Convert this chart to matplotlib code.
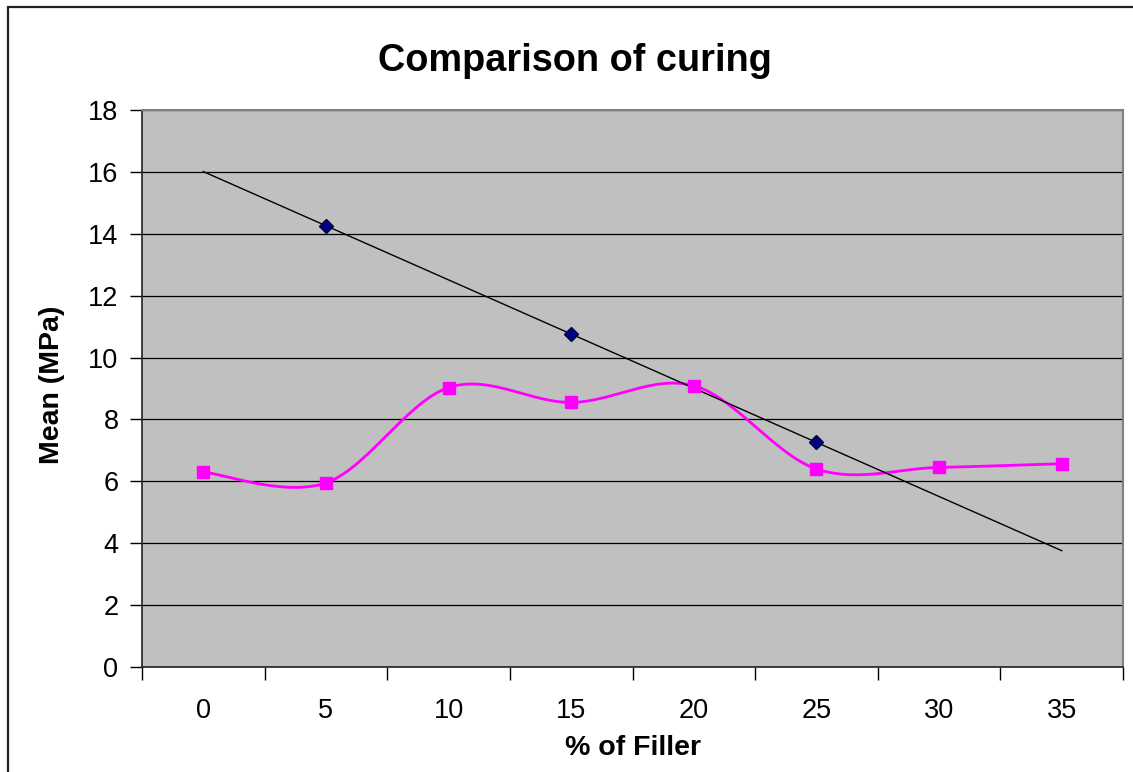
"""Comparison of curing – Excel-artiges Liniendiagramm mit Trendlinie."""

import matplotlib

matplotlib.use("Agg")

import matplotlib.pyplot as plt
import numpy as np
from matplotlib.patches import Rectangle

# --- Daten ---
filler_labels = ["0", "5", "10", "15", "20", "25", "30", "35"]
mean_pink = [6.30, 5.95, 9.03, 8.55, 9.09, 6.40, 6.45, 6.57]
blue_labels = ["5", "15", "25"]
mean_blue = [14.26, 10.76, 7.26]

plt.rcParams["font.family"] = ["Liberation Sans", "DejaVu Sans"]


def catmull_rom(xs, ys, steps=30):
    """Glatte Kurve wie Excel 'Linie glätten' (Catmull-Rom durch alle Punkte)."""
    px = np.concatenate([[xs[0]], xs, [xs[-1]]])
    py = np.concatenate([[ys[0]], ys, [ys[-1]]])
    out_x, out_y = [], []
    t = np.linspace(0, 1, steps, endpoint=False)
    for i in range(1, len(px) - 2):
        for p, out in ((px, out_x), (py, out_y)):
            p0, p1, p2, p3 = p[i - 1], p[i], p[i + 1], p[i + 2]
            seg = 0.5 * (
                2 * p1
                + (-p0 + p2) * t
                + (2 * p0 - 5 * p1 + 4 * p2 - p3) * t**2
                + (-p0 + 3 * p1 - 3 * p2 + p3) * t**3
            )
            out.extend(seg)
    out_x.append(xs[-1])
    out_y.append(ys[-1])
    return np.array(out_x), np.array(out_y)


fig = plt.figure(figsize=(11.33, 7.72), dpi=100)
fig.patch.set_facecolor("white")

# Rahmen des Diagrammbereichs (rechts/unten abgeschnitten)
fig.add_artist(
    Rectangle(
        (8 / 1133, -0.1), 1.2, 1.1 - 7 / 772,
        transform=fig.transFigure, fill=False, edgecolor="#222222", linewidth=1.6,
    )
)

ax = fig.add_axes([142 / 1133, 1 - 667 / 772, 981 / 1133, 557 / 772])
ax.set_facecolor("#C0C0C0")

x_idx = np.arange(len(filler_labels), dtype=float)
blue_idx = np.array([filler_labels.index(b) for b in blue_labels], dtype=float)

# Gitter
ax.set_ylim(0, 18)
ax.set_yticks(np.arange(0, 19, 2))
ax.yaxis.grid(True, color="black", linewidth=0.9)
ax.set_axisbelow(True)

# Rosa Reihe, geglättet
sx, sy = catmull_rom(x_idx, np.array(mean_pink))
ax.plot(sx, sy, color="#FF00FF", linewidth=2, zorder=3)
ax.plot(x_idx, mean_pink, linestyle="none", marker="s", markersize=8,
        color="#FF00FF", zorder=4)

# Blaue Reihe mit linearer Trendlinie
coef = np.polyfit(blue_idx, mean_blue, 1)
trend_x = np.array([x_idx[0], x_idx[-1]])
ax.plot(trend_x, np.polyval(coef, trend_x), color="black", linewidth=1, zorder=3)
ax.plot(blue_idx, mean_blue, linestyle="none", marker="D", markersize=7,
        color="#000080", markeredgecolor="#000040", zorder=5)

# Kategorienachse
ax.set_xlim(-0.5, len(filler_labels) - 0.5)
ax.set_xticks(x_idx)
ax.set_xticklabels(filler_labels)
ax.set_xticks(np.arange(-0.5, len(filler_labels)), minor=True)
ax.tick_params(axis="x", which="major", length=0, pad=22, labelsize=19.5)
ax.tick_params(axis="x", which="minor", length=9, width=1, direction="out")
ax.tick_params(axis="y", length=9, width=1, direction="out", pad=8, labelsize=19.5)

for side in ("top", "right"):
    ax.spines[side].set_color("#808080")
    ax.spines[side].set_linewidth(1.5)
for side in ("left", "bottom"):
    ax.spines[side].set_color("#222222")
    ax.spines[side].set_linewidth(1.2)

ax.set_xlabel("% of Filler", fontsize=20.5, fontweight="bold", va="center")
ax.xaxis.set_label_coords(0.5, (667 - 748) / 557)
ax.set_ylabel("Mean (MPa)", fontsize=20.5, fontweight="bold", va="center")
ax.yaxis.set_label_coords((52 - 142) / 981, 0.506)

fig.text(575 / 1133, 1 - 61 / 772, "Comparison of curing", fontsize=27.3,
         fontweight="bold", ha="center", va="center")

fig.savefig("out.png", dpi=100, facecolor="white")
